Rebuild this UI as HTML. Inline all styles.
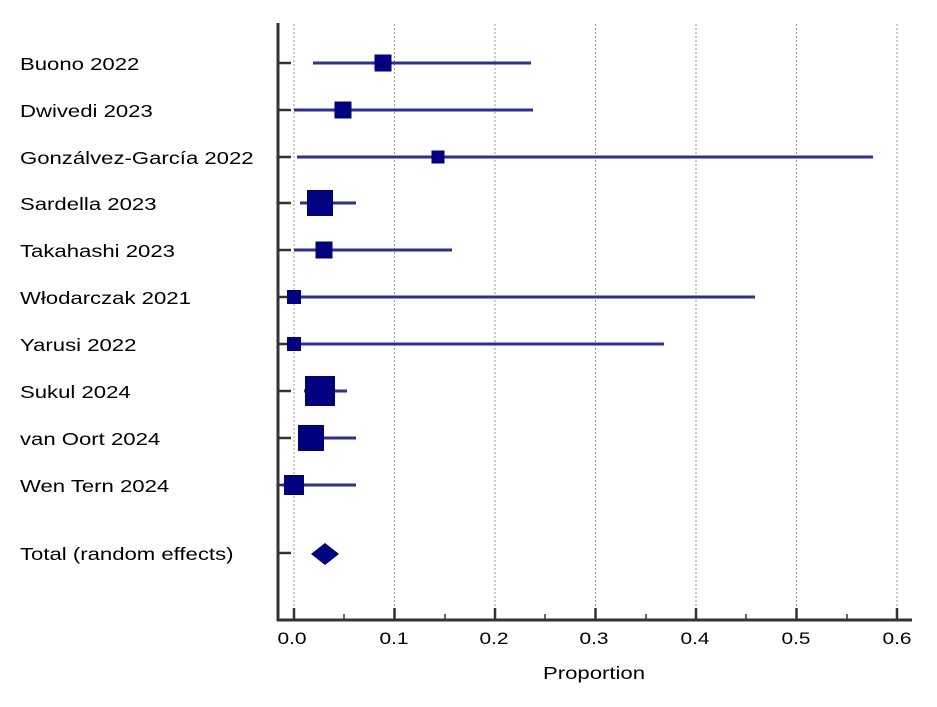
<!DOCTYPE html>
<html><head><meta charset="utf-8"><style>
body{margin:0;background:#fff}
svg text{font-family:"Liberation Sans",sans-serif;fill:#000}
</style></head><body>
<svg width="937" height="702" xmlns="http://www.w3.org/2000/svg">
<g stroke="#999" stroke-width="1" stroke-dasharray="2,2">
<line x1="294" y1="24" x2="294" y2="620"/><line x1="394.5" y1="24" x2="394.5" y2="620"/>
<line x1="495" y1="24" x2="495" y2="620"/><line x1="595.5" y1="24" x2="595.5" y2="620"/>
<line x1="696" y1="24" x2="696" y2="620"/><line x1="796.5" y1="24" x2="796.5" y2="620"/>
<line x1="897" y1="24" x2="897" y2="620"/>
</g>
<g stroke="#333" stroke-width="3">
<line x1="278" y1="23" x2="278" y2="621"/>
<line x1="277" y1="620" x2="912" y2="620"/>
</g>
<g stroke="#333" stroke-width="2.5">
<line x1="278" y1="63" x2="291" y2="63"/><line x1="278" y1="110" x2="291" y2="110"/>
<line x1="278" y1="157" x2="291" y2="157"/><line x1="278" y1="203" x2="291" y2="203"/>
<line x1="278" y1="250" x2="291" y2="250"/><line x1="278" y1="297" x2="291" y2="297"/>
<line x1="278" y1="344" x2="291" y2="344"/><line x1="278" y1="391" x2="291" y2="391"/>
<line x1="278" y1="438" x2="291" y2="438"/><line x1="278" y1="485" x2="291" y2="485"/>
<line x1="278" y1="553" x2="291" y2="553"/>
<line x1="294" y1="608" x2="294" y2="620"/><line x1="394.5" y1="608" x2="394.5" y2="620"/>
<line x1="495" y1="608" x2="495" y2="620"/><line x1="595.5" y1="608" x2="595.5" y2="620"/>
<line x1="696" y1="608" x2="696" y2="620"/><line x1="796.5" y1="608" x2="796.5" y2="620"/>
<line x1="897" y1="608" x2="897" y2="620"/>
</g>
<g stroke="#333" stroke-width="1.5">
<line x1="344" y1="614" x2="344" y2="620"/><line x1="445" y1="614" x2="445" y2="620"/>
<line x1="545" y1="614" x2="545" y2="620"/><line x1="646" y1="614" x2="646" y2="620"/>
<line x1="746" y1="614" x2="746" y2="620"/><line x1="847" y1="614" x2="847" y2="620"/>
</g>
<g stroke="#2e2e99" stroke-width="3">
<line x1="313" y1="63" x2="531" y2="63"/>
<line x1="294" y1="110" x2="533" y2="110"/>
<line x1="297" y1="157" x2="873" y2="157"/>
<line x1="300" y1="203" x2="356" y2="203"/>
<line x1="294" y1="250" x2="452" y2="250"/>
<line x1="294" y1="297" x2="755" y2="297"/>
<line x1="294" y1="344" x2="664" y2="344"/>
<line x1="304" y1="391" x2="347" y2="391"/>
<line x1="298" y1="438" x2="356" y2="438"/>
<line x1="282" y1="485" x2="356" y2="485"/>
</g>
<g fill="#000080">
<rect x="374.5" y="54.5" width="17" height="17"/>
<rect x="334.5" y="101.5" width="17" height="17"/>
<rect x="431.5" y="150.5" width="13" height="13"/>
<rect x="307" y="190" width="26" height="26"/>
<rect x="315.5" y="241.5" width="17" height="17"/>
<rect x="287" y="290" width="14" height="14"/>
<rect x="287" y="337" width="14" height="14"/>
<rect x="305" y="376" width="30" height="30"/>
<rect x="298" y="425" width="26" height="26"/>
<rect x="284" y="475" width="20" height="20"/>
<polygon points="311,554 325,543 339,554 325,565"/>
</g>
<g font-size="18">
<text transform="translate(20,70) scale(1.23,1)">Buono 2022</text>
<text transform="translate(20,117) scale(1.23,1)">Dwivedi 2023</text>
<text transform="translate(20,164) scale(1.23,1)">Gonzálvez-García 2022</text>
<text transform="translate(20,210) scale(1.23,1)">Sardella 2023</text>
<text transform="translate(20,257) scale(1.23,1)">Takahashi 2023</text>
<text transform="translate(20,304) scale(1.23,1)">Włodarczak 2021</text>
<text transform="translate(20,351) scale(1.23,1)">Yarusi 2022</text>
<text transform="translate(20,398) scale(1.23,1)">Sukul 2024</text>
<text transform="translate(20,445) scale(1.23,1)">van Oort 2024</text>
<text transform="translate(20,492) scale(1.23,1)">Wen Tern 2024</text>
<text transform="translate(20,560) scale(1.23,1)">Total (random effects)</text>
</g>
<g font-size="17" text-anchor="middle">
<text transform="translate(292,644) scale(1.23,1)">0.0</text>
<text transform="translate(394,644) scale(1.23,1)">0.1</text>
<text transform="translate(494,644) scale(1.23,1)">0.2</text>
<text transform="translate(594,644) scale(1.23,1)">0.3</text>
<text transform="translate(695,644) scale(1.23,1)">0.4</text>
<text transform="translate(796,644) scale(1.23,1)">0.5</text>
<text transform="translate(897,644) scale(1.23,1)">0.6</text>
<text transform="translate(594,679) scale(1.23,1)" font-size="18">Proportion</text>
</g>
</svg>
</body></html>
